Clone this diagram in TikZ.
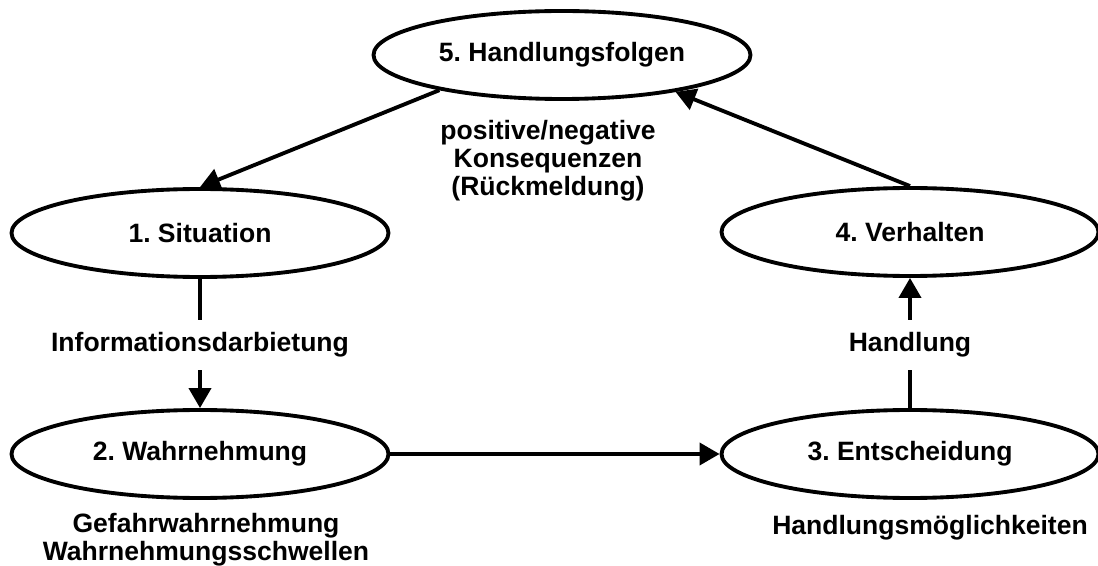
\documentclass[tikz,border=0pt]{standalone}
\usepackage{fontspec}
\setmainfont{Liberation Sans}
\frenchspacing
\usetikzlibrary{arrows.meta}
\usetikzlibrary{shapes.geometric}
\pgfdeclarelayer{edgelayer}
\pgfdeclarelayer{nodelayer}
\pgfsetlayers{edgelayer,nodelayer,main}
\tikzstyle{none}=[inner sep=0pt]
\tikzstyle{stage}=[ellipse,fill=white,draw=black,line width=2.2pt,minimum width=7.54cm,minimum height=1.76cm,inner sep=0pt,font=\bfseries\fontsize{15.1pt}{15.9pt}\selectfont]
\tikzstyle{note}=[inner sep=0pt,align=center,font=\bfseries\fontsize{15.1pt}{15.9pt}\selectfont]
\tikzstyle{gap}=[note,minimum height=1cm]
\tikzstyle{flow}=[-{Triangle[length=0.4cm,width=0.44cm]},draw=black,line width=2.2pt]
\tikzstyle{link}=[-,draw=black,line width=2.2pt]

\begin{document}
\begin{tikzpicture}
	\useasboundingbox (0, 0) rectangle (21.96, -11.32);
	\begin{pgfonlayer}{nodelayer}
		\node [style=stage] (0) at (11.24, -1.1) {5. Handlungsfolgen};
		\node [style=stage] (1) at (4, -4.66) {1. Situation};
		\node [style=stage] (2) at (18.2, -4.64) {4. Verhalten};
		\node [style=stage] (3) at (4, -9.08) {2. Wahrnehmung};
		\node [style=stage] (4) at (18.2, -9.08) {3. Entscheidung};
		\node [style=gap] (5) at (4, -6.9) {Informationsdarbietung};
		\node [style=gap] (6) at (18.2, -6.9) {Handlung};
		\node [style=note] (7) at (10.96, -3.22) {positive/negative\\Konsequenzen\\(R\"uckmeldung)};
		\node [style=note] (8) at (4.12, -10.8) {Gefahrwahrnehmung\\Wahrnehmungsschwellen};
		\node [style=note] (9) at (18.6, -10.56) {Handlungsm\"oglichkeiten};
	\end{pgfonlayer}
	\begin{pgfonlayer}{edgelayer}
		\draw [style=flow] (0.196) to (1.north);
		\draw [style=flow] (2.north) to (0.342);
		\draw [style=link] (1.south) to (5.north);
		\draw [style=flow] (5.south) to (3.north);
		\draw [style=flow] (3.east) to (4.west);
		\draw [style=link] (4.north) to (6.south);
		\draw [style=flow] (6.north) to (2.south);
	\end{pgfonlayer}
\end{tikzpicture}
\end{document}
